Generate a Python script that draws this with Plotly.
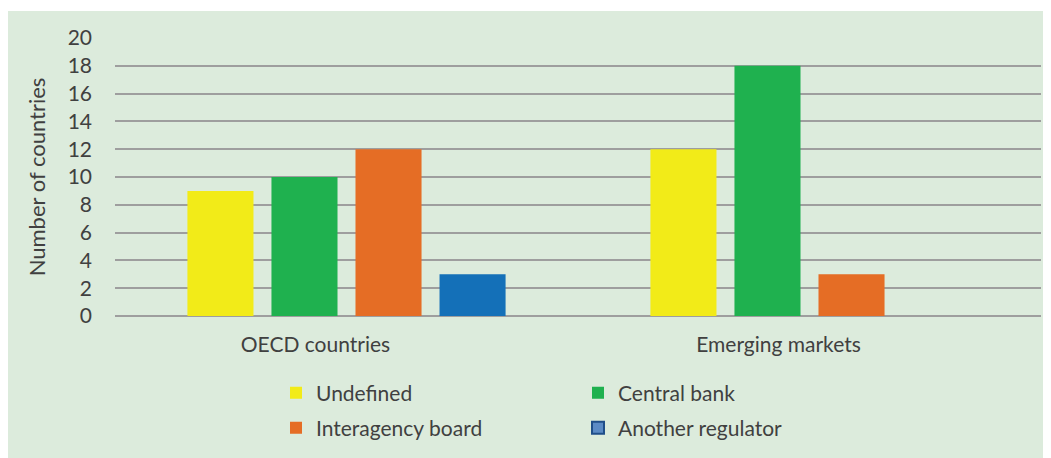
import plotly.graph_objects as go

categories = ["OECD countries", "Emerging markets"]
undefined = [9, 12]
central_bank = [10, 18]
interagency = [12, 3]
another_reg = [3, None]
y_ticks = list(range(0, 21, 2))

FONT = "Lato"
TXT = "#404040"
BG = "#dcebdc"
GRID = "#9e9e9e"

# page has an 8px body margin; figure sized to fill the window
OFF = 8
W, H = 1051 - OFF, 458 - OFF
L, R, T, B = 115 - OFF, 10, 38 - OFF, 458 - 316
pw, ph = W - L - R, H - T - B

fig = go.Figure()
fig.add_trace(go.Bar(x=categories, y=undefined, name="Undefined",
                     marker=dict(color="#f2eb18", line=dict(width=0)), legend="legend"))
fig.add_trace(go.Bar(x=categories, y=central_bank, name="Central bank",
                     marker=dict(color="#1fb14f", line=dict(width=0)), legend="legend"))
fig.add_trace(go.Bar(x=categories, y=interagency, name="Interagency board",
                     marker=dict(color="#e56d25", line=dict(width=0)), legend="legend2"))
fig.add_trace(go.Bar(x=categories, y=another_reg, name="Another regulator",
                     marker=dict(color="#1470b8", line=dict(width=0)), showlegend=False))
# legend entry for "Another regulator" (outlined square like the reference)
fig.add_trace(go.Scatter(x=[None], y=[None], mode="markers", name="Another regulator",
                         marker=dict(symbol="square", size=12, color="#5b8ac5",
                                     line=dict(color="#1f4e89", width=2)),
                         legend="legend2"))

# green panel (starts 3px below top of figure)
fig.add_shape(type="rect", xref="paper", yref="paper",
              x0=-L / pw, x1=(W - L) / pw,
              y0=-B / ph, y1=(ph + T - 3) / ph,
              fillcolor=BG, line=dict(width=0), layer="below")

legend_common = dict(orientation="h", xref="container", yref="container",
                     xanchor="left", yanchor="middle", x=268 / W,
                     entrywidth=257, entrywidthmode="pixels",
                     font=dict(family=FONT, size=21, color=TXT),
                     bgcolor="rgba(0,0,0,0)", traceorder="normal")

fig.update_layout(
    width=W, height=H,
    margin=dict(l=L, r=R, t=T, b=B),
    paper_bgcolor="white", plot_bgcolor=BG,
    barmode="group", bargap=0.274, bargroupgap=0.214,
    font=dict(family=FONT, size=21, color=TXT),
    legend=dict(legend_common, y=(H - (393 - OFF)) / H),
    legend2=dict(legend_common, y=(H - (428 - OFF)) / H),
    xaxis=dict(showgrid=False, showline=False, ticks="", ticklabelshift=-31,
               ticklabelstandoff=14, tickfont=dict(family=FONT, size=21, color=TXT)),
    yaxis=dict(range=[0, 20], tickvals=y_ticks, showgrid=True, gridcolor=GRID, gridwidth=2,
               zeroline=True, zerolinecolor=GRID, zerolinewidth=2, showline=False,
               ticks="", ticklabelstandoff=22,
               tickfont=dict(family=FONT, size=21, color=TXT),
               title=dict(text="Number of countries", standoff=15,
                          font=dict(family=FONT, size=22, color=TXT))),
)

fig.write_html("out.html")
